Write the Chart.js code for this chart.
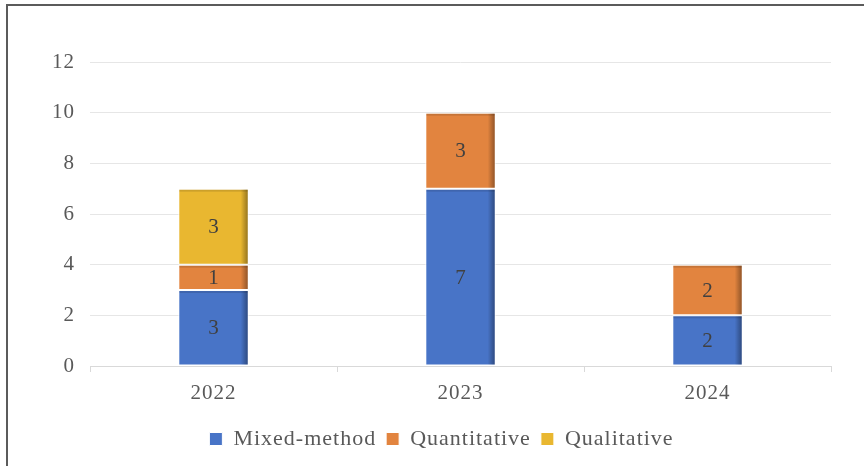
<!DOCTYPE html>
<html>
<head>
<meta charset="utf-8">
<script src="https://cdn.jsdelivr.net/npm/chart.js@4/dist/chart.umd.min.js"></script>
<style>
  html, body { margin: 0; padding: 0; background: #fff; }
  #wrap { position: relative; width: 864px; height: 466px; overflow: hidden; }
  #frame { position: absolute; left: 6px; top: 4px; width: 900px; height: 500px;
           border-top: 2px solid #5b5b5b; border-left: 2px solid #5b5b5b; box-sizing: border-box; }
  canvas { position: absolute; left: 0; top: 0; }
</style>
</head>
<body>
<div id="wrap">
  <div id="frame"></div>
  <canvas id="studyChart" width="864" height="466"></canvas>
</div>
<script>
const years = ["2022", "2023", "2024"];
const mixedMethod = [3, 7, 2];
const quantitative = [1, 3, 2];
const qualitative = [3, 0, 0];

const serif = "'Liberation Serif', 'Times New Roman', serif";

// the original text is a bit wider than Liberation Serif, open it up a little
const wideText = {
  id: "wideText",
  beforeLayout(chart) { chart.ctx.letterSpacing = "1px"; },
  beforeDraw(chart) { chart.ctx.letterSpacing = "1px"; },
  afterLayout(chart) {
    // legend sits a little right of the canvas centre in the original
    chart.legend.left += 26;
    chart.legend.right += 26;
  }
};

// value labels in the middle of each segment
const segmentLabels = {
  id: "segmentLabels",
  afterDatasetsDraw(chart) {
    const c = chart.ctx;
    c.save();
    c.font = "21px " + serif;
    c.fillStyle = "#404040";
    c.textAlign = "center";
    c.textBaseline = "middle";
    chart.data.datasets.forEach((ds, i) => {
      const meta = chart.getDatasetMeta(i);
      meta.data.forEach((bar, j) => {
        const v = ds.data[j];
        if (!v) return;
        const p = bar.getProps(["x", "y", "base"], true);
        c.fillText(String(v), p.x + 0.5, (p.y + p.base) / 2 + 1);
      });
    });
    c.restore();
  }
};

// darker right edge, like the bevel in the original
const barShade = {
  id: "barShade",
  afterDatasetsDraw(chart) {
    const c = chart.ctx;
    c.save();
    chart.data.datasets.forEach((ds, i) => {
      const meta = chart.getDatasetMeta(i);
      meta.data.forEach((bar, j) => {
        if (!ds.data[j]) return;
        const p = bar.getProps(["x", "y", "base", "width"], true);
        const right = p.x + p.width / 2 - 1;
        const g = c.createLinearGradient(right - 7, 0, right, 0);
        g.addColorStop(0, "rgba(0,0,0,0)");
        g.addColorStop(1, "rgba(0,0,0,0.35)");
        c.fillStyle = g;
        c.fillRect(right - 7, p.y + 1, 7, p.base - p.y - 2);
        c.fillStyle = "rgba(0,0,0,0.12)";
        c.fillRect(p.x - p.width / 2 + 1, p.y + 1, p.width - 2, 2);
      });
    });
    c.restore();
  }
};

new Chart(document.getElementById("studyChart"), {
  type: "bar",
  data: {
    labels: years,
    datasets: [
      { label: "Mixed-method", data: mixedMethod, backgroundColor: "#4874c7" },
      { label: "Quantitative", data: quantitative, backgroundColor: "#e2843f" },
      { label: "Qualitative", data: qualitative, backgroundColor: "#e9b730" }
    ].map((d) => Object.assign(d, {
      borderColor: "#ffffff",
      borderWidth: 1,
      borderSkipped: false,
      barPercentage: 0.285,
      categoryPercentage: 1
    }))
  },
  options: {
    responsive: false,
    animation: false,
    layout: { padding: { left: 0, right: 33, top: 62, bottom: 6 } },
    plugins: {
      tooltip: { enabled: false },
      legend: {
        position: "bottom",
        labels: {
          boxWidth: 13,
          boxHeight: 13,
          padding: 10,
          color: "#595959",
          font: { family: serif, size: 22 }
        }
      }
    },
    scales: {
      x: {
        stacked: true,
        afterFit(scale) { scale.height = 52; },
        grid: { drawOnChartArea: false, drawTicks: true, tickLength: 6, offset: true, color: "#d9d9d9" },
        border: { color: "#d9d9d9" },
        ticks: { color: "#595959", font: { family: serif, size: 21 }, padding: 9 }
      },
      y: {
        stacked: true,
        min: 0,
        max: 12,
        afterFit(scale) { scale.width = 90; },
        grid: { color: "#e6e6e6", drawTicks: false },
        border: { display: false },
        ticks: { stepSize: 2, color: "#595959", font: { family: serif, size: 21 }, padding: 15 }
      }
    }
  },
  plugins: [wideText, barShade, segmentLabels]
});
</script>
</body>
</html>
